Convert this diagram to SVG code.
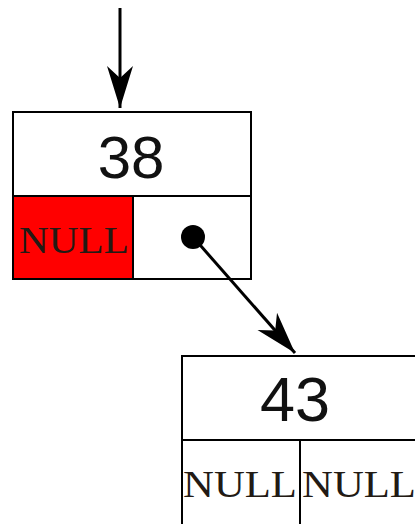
<svg xmlns="http://www.w3.org/2000/svg" width="415" height="524" viewBox="0 0 415 524">
<defs>
<style>
.box{fill:#fff;stroke:#000;stroke-width:2}
.num{font-family:"Liberation Sans",Arial,sans-serif;fill:#111;text-anchor:middle}
.null{font-family:"Liberation Serif","Times New Roman",serif;font-size:37px;fill:#221a14}
.conn{stroke:#000;stroke-width:3;fill:none}
</style>
<marker id="arr" viewBox="-44 -15 46 30" markerWidth="46" markerHeight="30" refX="0" refY="0" orient="auto" markerUnits="userSpaceOnUse">
<path d="M0,0 L-42,-13 L-30,0 L-42,13 Z" fill="#000"/>
</marker>
</defs>
<rect width="415" height="524" fill="#fff"/>
<g id="node38">
<rect class="box" x="13" y="112" width="238" height="167"/>
<rect x="13" y="196" width="120" height="83" fill="#f00" stroke="#000" stroke-width="2"/>
<rect x="133" y="196" width="118" height="83" fill="#fff" stroke="#000" stroke-width="2"/>
<text class="num" x="131" y="178" font-size="60">38</text>
<text class="null" x="19" y="253" textLength="110" lengthAdjust="spacingAndGlyphs">NULL</text>
</g>
<g id="node43">
<rect class="box" x="182" y="356" width="238" height="170"/>
<line x1="182" y1="440" x2="420" y2="440" stroke="#000" stroke-width="2"/>
<line x1="300" y1="440" x2="300" y2="526" stroke="#000" stroke-width="2"/>
<text class="num" x="295" y="421" font-size="63">43</text>
<text class="null" x="183" y="497" textLength="114" lengthAdjust="spacingAndGlyphs">NULL</text>
<text class="null" x="302" y="497" textLength="114" lengthAdjust="spacingAndGlyphs">NULL</text>
</g>
<g id="connectors">
<path class="conn" d="M120,8 L120,108" marker-end="url(#arr)"/>
<circle cx="193" cy="237" r="12" fill="#000"/>
<path class="conn" d="M193,237 L295,353" marker-end="url(#arr)"/>
</g>
</svg>
